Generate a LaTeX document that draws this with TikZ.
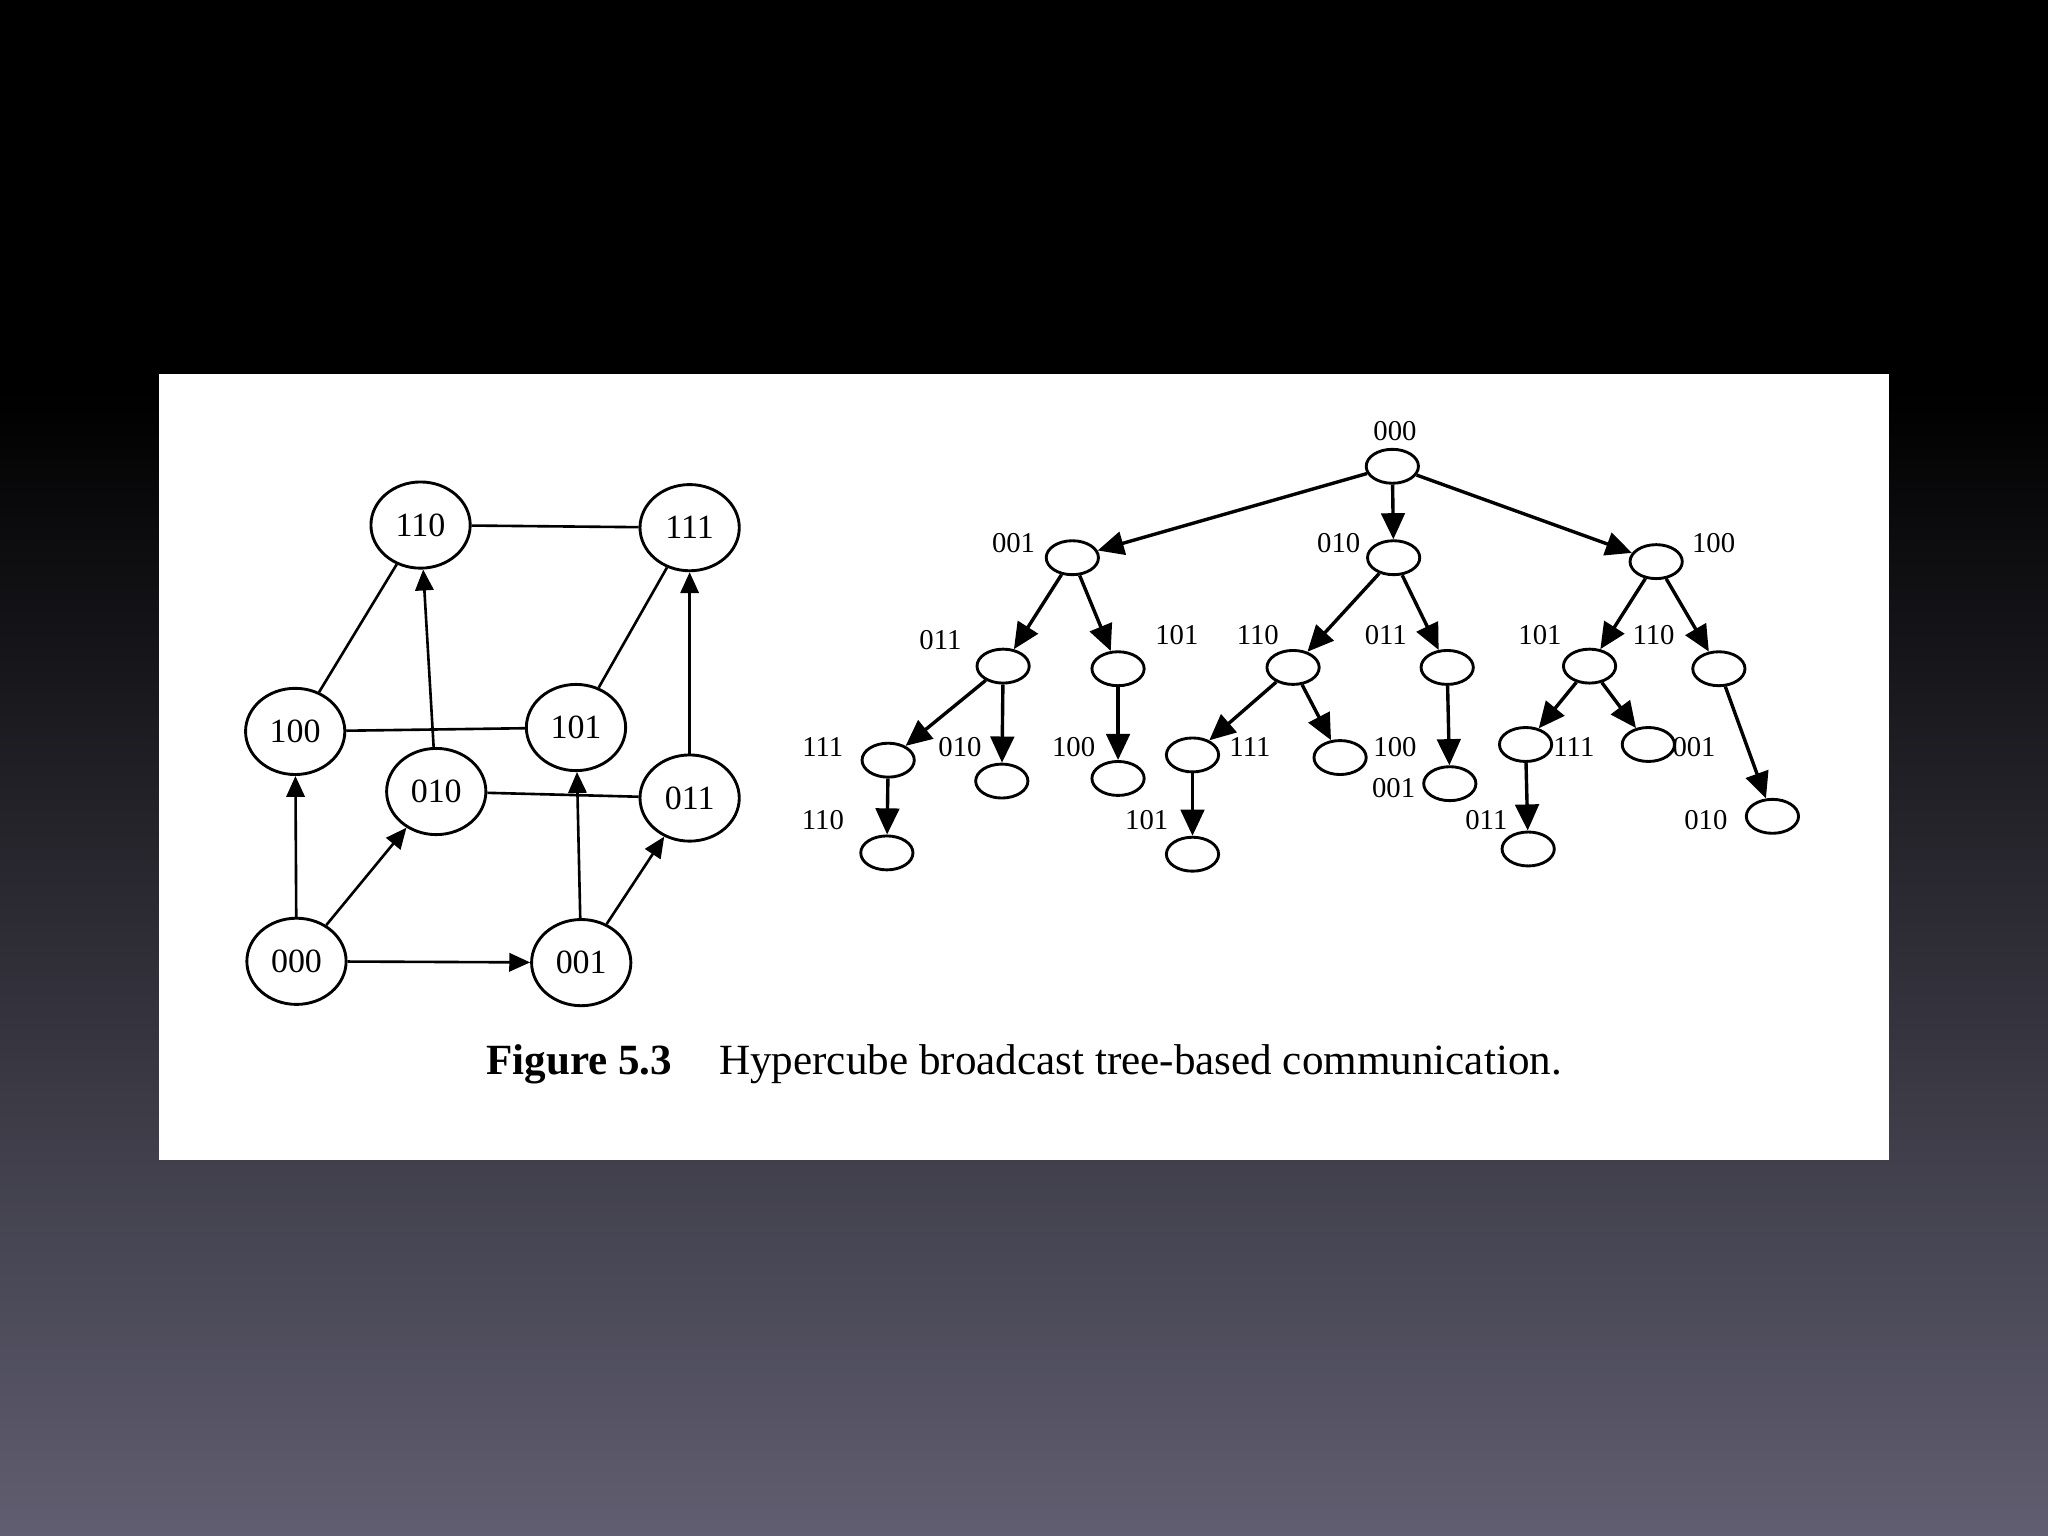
\documentclass[tikz,border=0pt]{standalone}
\usepackage{fontspec}
\setmainfont{Liberation Serif}
\usetikzlibrary{shapes.geometric,arrows.meta}
\begin{document}
\begin{tikzpicture}[x=0.5pt,y=-0.5pt,
  cn/.style={ellipse,draw,line width=1.1pt,minimum width=38pt,minimum height=33pt,inner sep=0pt,font=\fontsize{13}{13}\selectfont},
  tn/.style={ellipse,draw,line width=1.1pt,minimum width=20pt,minimum height=13pt,inner sep=0pt},
  tl/.style={font=\fontsize{11}{11}\selectfont},
  ce/.style={line width=1pt},
  ca/.style={line width=1pt,-{Triangle[length=8pt,width=7pt]}},
  ta/.style={line width=1.3pt,-{Triangle[length=10pt,width=9pt]}}]
\useasboundingbox (0,0) rectangle (1568,1176);
\fill[black] (0,0) rectangle (1568,300);
\shade[top color=black,bottom color={rgb,255:red,96;green,94;blue,112}] (0,300) rectangle (1568,1176);
\fill[white] (122,286) rectangle (1446,888);
% cube
\node[cn] (c110) at (322,402) {110};
\node[cn] (c111) at (528,404) {111};
\node[cn] (c100) at (226,560) {100};
\node[cn] (c101) at (441,557) {101};
\node[cn] (c010) at (334,606) {010};
\node[cn] (c011) at (528,611) {011};
\node[cn] (c000) at (227,736) {000};
\node[cn] (c001) at (445,737) {001};
\draw[ce] (c110)--(c111);
\draw[ce] (c100)--(c110);
\draw[ce] (c101)--(c111);
\draw[ce] (c100)--(c101);
\draw[ce] (c010)--(c011);
\draw[ca] (c000)--(c100);
\draw[ca] (c000)--(c010);
\draw[ca] (c000)--(c001);
\draw[ca] (c001)--(c101);
\draw[ca] (c001)--(c011);
\draw[ca] (c010)--(c110);
\draw[ca] (c011)--(c111);
% tree
\node[tn] (r) at (1066,357) {};
\node[tl] (lr) at (1068,330) {000};
\node[tn] (a) at (821,427) {}; \node[tl] (la) at (776,416) {001};
\node[tn] (b) at (1067,427) {}; \node[tl] (lb) at (1025,416) {010};
\node[tn] (c) at (1268,430) {}; \node[tl] (lc) at (1312,416) {100};
\node[tn] (a1) at (768,510) {}; \node[tl] (la1) at (720,490) {011};
\node[tn] (a2) at (856,512) {}; \node[tl] (la2) at (901,486) {101};
\node[tn] (b1) at (990,511) {}; \node[tl] (lb1) at (963,486) {110};
\node[tn] (b2) at (1108,511) {}; \node[tl] (lb2) at (1061,486) {011};
\node[tn] (c1) at (1217,510) {}; \node[tl] (lc1) at (1179,486) {101};
\node[tn] (c2) at (1316,512) {}; \node[tl] (lc2) at (1266,486) {110};
\node[tn] (a1a) at (680,582) {}; \node[tl] (la1a) at (630,572) {111};
\node[tn] (a1b) at (767,598) {}; \node[tl] (la1b) at (735,572) {010};
\node[tn] (a2a) at (856,596) {}; \node[tl] (la2a) at (822,572) {100};
\node[tn] (b1a) at (913,578) {}; \node[tl] (lb1a) at (957,572) {111};
\node[tn] (b1b) at (1026,580) {}; \node[tl] (lb1b) at (1068,572) {100};
\node[tn] (b2a) at (1110,600) {}; \node[tl] (lb2a) at (1067,603) {001};
\node[tn] (c1a) at (1168,570) {}; \node[tl] (lc1a) at (1205,572) {111};
\node[tn] (c1b) at (1262,570) {}; \node[tl] (lc1b) at (1297,572) {001};
\node[tn] (c2a) at (1357,625) {}; \node[tl] (lc2a) at (1306,628) {010};
\node[tn] (a1aa) at (679,653) {}; \node[tl] (la1aa) at (630,628) {110};
\node[tn] (b1aa) at (913,654) {}; \node[tl] (lb1aa) at (878,628) {101};
\node[tn] (c1aa) at (1170,650) {}; \node[tl] (lc1aa) at (1138,628) {011};
\foreach \p/\q in {r/a,r/b,r/c,a/a1,a/a2,b/b1,b/b2,c/c1,c/c2,a1/a1a,a1/a1b,a2/a2a,b1/b1a,b1/b1b,b2/b2a,c1/c1a,c1/c1b,c2/c2a,a1a/a1aa,b1a/b1aa,c1a/c1aa}
  \draw[ta] (\p)--(\q);
\node[font=\fontsize{16.5}{16.5}\selectfont] (cap) at (784,815) {\textbf{Figure 5.3}\hspace{18pt}Hypercube broadcast tree-based communication.};
\end{tikzpicture}
\end{document}
